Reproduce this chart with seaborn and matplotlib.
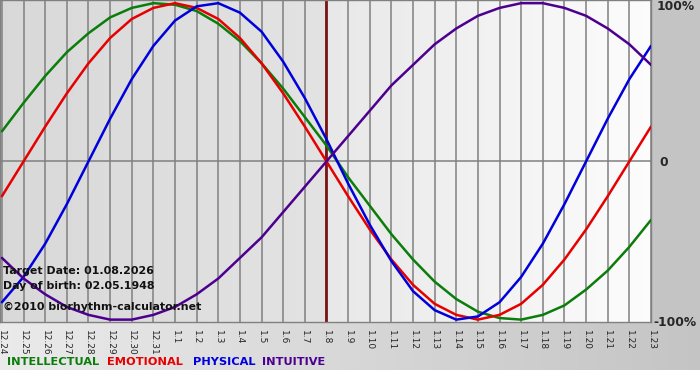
import numpy as np
import pandas as pd
import matplotlib
matplotlib.use("Agg")
import matplotlib.pyplot as plt
import seaborn as sns

# data (one value per day, -1..1)
days = ["12.24", "12.25", "12.26", "12.27", "12.28", "12.29", "12.30", "12.31",
        "1.1", "1.2", "1.3", "1.4", "1.5", "1.6", "1.7", "1.8", "1.9", "1.10",
        "1.11", "1.12", "1.13", "1.14", "1.15", "1.16", "1.17", "1.18", "1.19",
        "1.20", "1.21", "1.22", "1.23"]
intellectual = [0.19, 0.37, 0.54, 0.69, 0.81, 0.91, 0.97, 1.00, 0.99, 0.95, 0.87,
                0.76, 0.62, 0.46, 0.28, 0.10, -0.10, -0.28, -0.46, -0.62, -0.76,
                -0.87, -0.95, -0.99, -1.00, -0.97, -0.91, -0.81, -0.69, -0.54, -0.37]
emotional = [-0.22, 0.00, 0.22, 0.43, 0.62, 0.78, 0.90, 0.97, 1.00, 0.97, 0.90,
             0.78, 0.62, 0.43, 0.22, 0.00, -0.22, -0.43, -0.62, -0.78, -0.90,
             -0.97, -1.00, -0.97, -0.90, -0.78, -0.62, -0.43, -0.22, 0.00, 0.22]
physical = [-0.89, -0.73, -0.52, -0.27, 0.00, 0.27, 0.52, 0.73, 0.89, 0.98, 1.00,
            0.94, 0.82, 0.63, 0.40, 0.14, -0.14, -0.40, -0.63, -0.82, -0.94,
            -1.00, -0.98, -0.89, -0.73, -0.52, -0.27, 0.00, 0.27, 0.52, 0.73]
intuitive = [-0.61, -0.74, -0.84, -0.92, -0.97, -1.00, -1.00, -0.97, -0.92, -0.84,
             -0.74, -0.61, -0.48, -0.32, -0.16, 0.00, 0.16, 0.32, 0.48, 0.61, 0.74,
             0.84, 0.92, 0.97, 1.00, 1.00, 0.97, 0.92, 0.84, 0.74, 0.61]
target_day = "1.8"
cycles = ["INTELLECTUAL", "EMOTIONAL", "PHYSICAL", "INTUITIVE"]
colors = ["#0a7d0a", "#e60000", "#0000dd", "#4d0090"]

sns.set_style("white")
plt.rcParams['font.family'] = ['DejaVu Sans']

rows = []
for name, vals in zip(cycles, [intellectual, emotional, physical, intuitive]):
    for i, v in enumerate(vals):
        rows.append({"day": i, "value": v, "cycle": name})
df = pd.DataFrame(rows)

W, H = 700, 380
fig = plt.figure(figsize=(7, 3.8), dpi=100)

# background of the whole picture
bg = np.ones((H, W, 3))
xs = np.linspace(0, 1, W)
band = 0.92 - 0.15 * xs
bg[322:370, :, :] = band[None, :, None]
bg[0:322, 651:, :] = 0.77
bax = fig.add_axes([0, 0, 1, 1], zorder=0)
bax.imshow(bg, aspect="auto", extent=[0, W, H, 0])
bax.axis("off")

ax = fig.add_axes([0, 58 / H, 651 / W, 322 / H], zorder=1)
x0, x1 = -0.09, 30
y0, y1 = -1.015, 1.02
t = days.index(target_day)

# plot background: darker before target date, lighter after
n = 600
g = np.linspace(x0, x1, n)
shade = np.where(g < t, 0.85 + 0.04 * (g - x0) / (t - x0),
                 0.91 + 0.08 * (g - t) / (x1 - t))
ax.imshow(np.repeat(shade[None, :, None], 3, axis=2), aspect="auto",
          extent=[x0, x1, y0, y1], zorder=0, vmin=0, vmax=1)

for i in range(len(days)):
    ax.axvline(i, color="#808080", lw=1.1, zorder=1)
ax.axhline(0, color="#808080", lw=1.1, zorder=1)
ax.axvline(t, color="#7a1515", lw=2, zorder=2)

sns.lineplot(data=df, x="day", y="value", hue="cycle", hue_order=cycles,
             palette=colors, linewidth=1.8, legend=False, ax=ax, zorder=3)

ax.set_xlim(x0, x1)
ax.set_ylim(y0, y1)
ax.set_xlabel("")
ax.set_ylabel("")
ax.set_yticks([])
ax.set_xticks(range(len(days)))
ax.set_xticklabels(days, rotation=270, fontsize=6.5, va="top", ha="center")
ax.tick_params(axis="x", length=4, color="#808080", pad=2)
for s in ax.spines.values():
    s.set_color("#808080")
    s.set_linewidth(1)

ax.text(0.05, -0.69, "Target Date: 01.08.2026", fontsize=7.9, fontweight="bold",
        color="#111111", va="center", zorder=4)
ax.text(0.05, -0.79, "Day of birth: 02.05.1948", fontsize=7.9, fontweight="bold",
        color="#111111", va="center", zorder=4)
ax.text(0.05, -0.92, "\u00a92010 biorhythm-calculator.net", fontsize=7.9,
        fontweight="bold", color="#111111", va="center", zorder=4)

# right side labels
fig.text(657 / W, 1 - 7 / H, "100%", fontsize=8.8, fontweight="bold", va="center")
fig.text(659 / W, 1 - 162 / H, "0", fontsize=8.8, fontweight="bold", va="center")
fig.text(653 / W, 1 - 322 / H, "-100%", fontsize=8.8, fontweight="bold", va="center")

# legend words
lx = [7, 107, 193, 262]
for name, c, x in zip(cycles, colors, lx):
    fig.text(x / W, 1 - 362 / H, name, fontsize=8.2, fontweight="bold",
             color=c, va="center")

fig.savefig("out.png", dpi=100)
